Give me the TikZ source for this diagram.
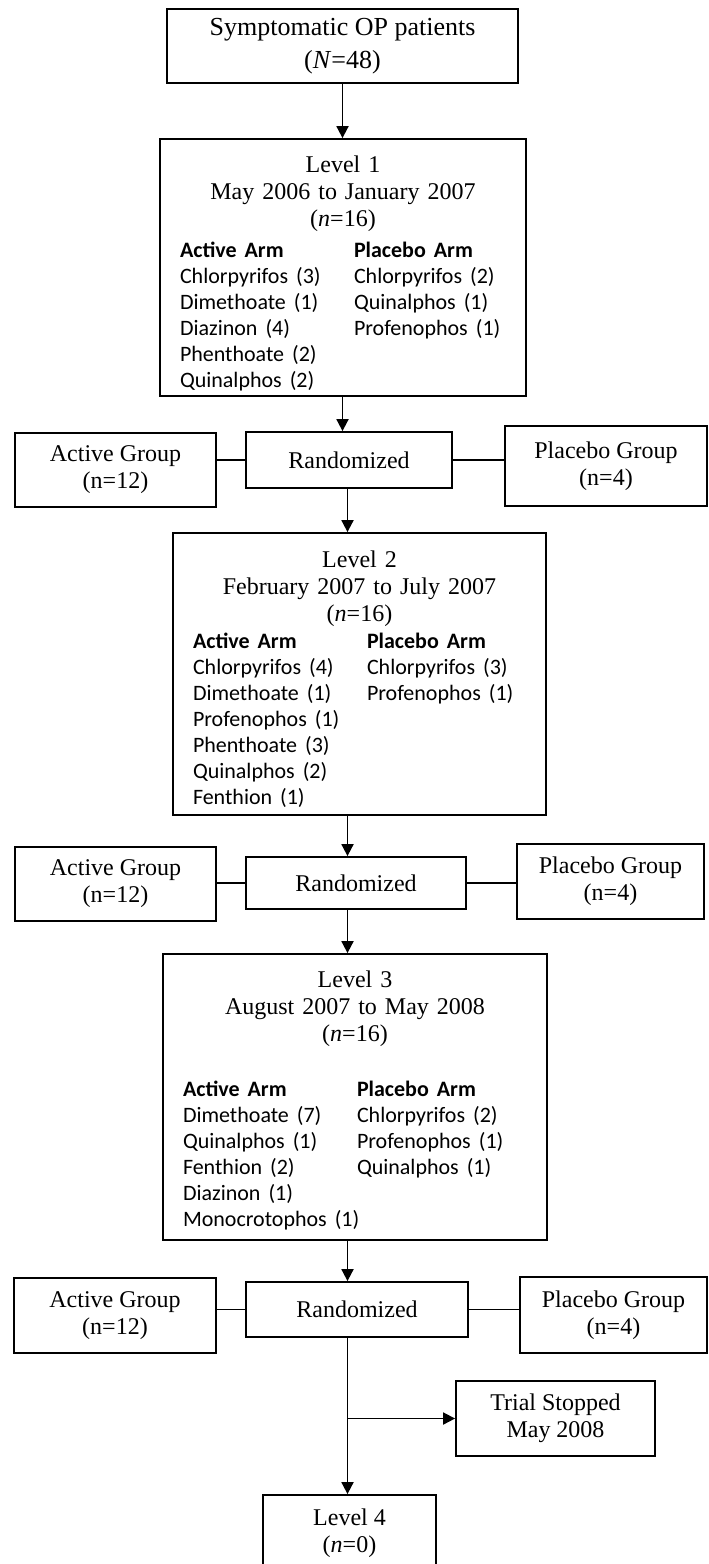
\documentclass[tikz,border=0pt]{standalone}
\usepackage{fontspec}
\setmainfont{Liberation Serif}
\newfontfamily\armfont{Carlito}
\usepackage{array}
\usetikzlibrary{arrows.meta}

\newcommand\armsize{\armfont\fontsize{11}{13}\selectfont}

\begin{document}
\begin{tikzpicture}[x=0.5pt,y=-0.5pt,
        font=\fontsize{12}{13.5}\selectfont,
        box/.style={draw, line width=0.9pt, inner sep=0pt, align=center},
        levelbox/.style={draw, line width=0.9pt, inner xsep=10pt, inner ysep=0pt},
        arr/.style={-{Triangle[length=6pt,width=6pt]}, line width=0.9pt},
        link/.style={line width=0.9pt}]
    \useasboundingbox (0,0) rectangle (708,1564);
    \coordinate (spine) at (347.5,0);

    % top of the chart
    \node[box, minimum width=175.5pt, minimum height=37pt, font=\fontsize{13}{16.5}\selectfont] (start) at (342.5,46)
        {Symptomatic OP patients\\(\textit{N}=48)};

    % level 1
    \node[levelbox, minimum width=183pt, minimum height=128.5pt, text width=163pt] (lvlone) at (343,267.5)
        {{\centering\rule{0pt}{16pt}Level 1\\ May 2006 to January 2007\\ (\textit{n}=16)\par}
         \vspace{2pt}\armsize
         \begin{tabular}[t]{@{}w{l}{87pt}@{}l@{}}
         \textbf{Active Arm} & \textbf{Placebo Arm}\\
         Chlorpyrifos (3) & Chlorpyrifos (2)\\
         Dimethoate (1) & Quinalphos (1)\\
         Diazinon (4) & Profenophos (1)\\
         Phenthoate (2) & \\
         Quinalphos (2) &
         \end{tabular}};
    \node[box, minimum width=100.5pt, minimum height=37pt] (actone) at (115.5,470) {Active Group\\(n=12)};
    \node[box, minimum width=103pt, minimum height=28pt] (rndone) at (349,460) {Randomized};
    \node[box, minimum width=101pt, minimum height=40pt] (plcone) at (606,466) {Placebo Group\\(n=4)};

    % level 2
    \node[levelbox, minimum width=186.5pt, minimum height=141pt, text width=166.5pt] (lvltwo) at (359.5,674)
        {{\centering\rule{0pt}{16pt}Level 2\\ February 2007 to July 2007\\ (\textit{n}=16)\par}
         \armsize
         \begin{tabular}[t]{@{}w{l}{87pt}@{}l@{}}
         \textbf{Active Arm} & \textbf{Placebo Arm}\\
         Chlorpyrifos (4) & Chlorpyrifos (3)\\
         Dimethoate (1) & Profenophos (1)\\
         Profenophos (1) & \\
         Phenthoate (3) & \\
         Quinalphos (2) & \\
         Fenthion (1) &
         \end{tabular}};
    \node[box, minimum width=100.5pt, minimum height=37pt] (acttwo) at (115.5,884) {Active Group\\(n=12)};
    \node[box, minimum width=110pt, minimum height=26pt] (rndtwo) at (356,883) {Randomized};
    \node[box, minimum width=93.5pt, minimum height=37.5pt] (plctwo) at (610.5,881.5) {Placebo Group\\(n=4)};

    % level 3
    \node[levelbox, minimum width=192pt, minimum height=143pt, text width=172pt] (lvlthree) at (355,1097)
        {{\centering\rule{0pt}{14pt}Level 3\\ August 2007 to May 2008\\ (\textit{n}=16)\par}
         \vspace{14pt}\armsize
         \begin{tabular}[t]{@{}w{l}{87pt}@{}l@{}}
         \textbf{Active Arm} & \textbf{Placebo Arm}\\
         Dimethoate (7) & Chlorpyrifos (2)\\
         Quinalphos (1) & Profenophos (1)\\
         Fenthion (2) & Quinalphos (1)\\
         Diazinon (1) & \\
         Monocrotophos (1) &
         \end{tabular}};
    \node[box, minimum width=101pt, minimum height=37.5pt] (actthree) at (115,1315.5) {Active Group\\(n=12)};
    \node[box, minimum width=111pt, minimum height=27.5pt] (rndthree) at (357,1309.5) {Randomized};
    \node[box, minimum width=93.5pt, minimum height=38pt] (plcthree) at (613.5,1315) {Placebo Group\\(n=4)};

    % end of trial
    \node[box, minimum width=99.5pt, minimum height=37.5pt] (trial) at (555.5,1418.5) {Trial Stopped\\May 2008};
    \node[box, minimum width=86.5pt, minimum height=38pt] (lvlfour) at (349.5,1533) {Level 4\\(\textit{n}=0)};

    % arrows down the middle
    \draw[arr] (start.south) -- (start.south |- lvlone.north);
    \draw[arr] (lvlone.south -| start) -- (rndone.north -| start);
    \draw[arr] (rndone.south -| spine) -- (lvltwo.north -| spine);
    \draw[arr] (lvltwo.south -| spine) -- (rndtwo.north -| spine);
    \draw[arr] (rndtwo.south -| spine) -- (lvlthree.north -| spine);
    \draw[arr] (lvlthree.south -| spine) -- (rndthree.north -| spine);
    \draw[arr] (rndthree.south -| spine) -- (lvlfour.north -| spine);
    \draw[arr] (trial.west -| spine) -- (trial.west);

    % groups beside each randomization
    \draw[link] (actone.east |- rndone) -- (rndone.west);
    \draw[link] (rndone.east) -- (rndone -| plcone.west);
    \draw[link] (acttwo.east |- rndtwo) -- (rndtwo.west);
    \draw[link] (rndtwo.east) -- (rndtwo -| plctwo.west);
    \draw[link] (actthree.east |- rndthree) -- (rndthree.west);
    \draw[link] (rndthree.east) -- (rndthree -| plcthree.west);
\end{tikzpicture}
\end{document}
